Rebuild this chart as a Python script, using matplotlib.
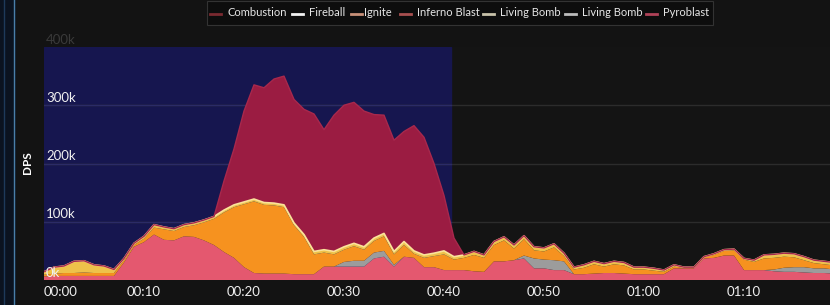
import matplotlib
matplotlib.use("Agg")
import matplotlib.pyplot as plt
from matplotlib.lines import Line2D
from matplotlib.patches import Rectangle
import numpy as np

plt.rcParams["font.family"] = ["Lato", "DejaVu Sans"]

# seconds into the fight
seconds = list(range(80))

# DPS per spell in thousands (stack order bottom -> top)
pyroblast = [6, 7, 7, 7, 7, 7, 7, 7, 30, 57, 65, 78, 69, 68, 75, 74, 68, 60, 48, 38,
             22, 12, 11, 11, 11, 10, 10, 10, 23, 23, 23, 23, 23, 37, 40, 23, 40, 38, 22, 22,
             17, 17, 17, 15, 14, 32, 32, 34, 37, 20, 20, 17, 17, 10, 10, 11, 12, 12, 11, 10,
             10, 10, 10, 20, 20, 20, 37, 38, 42, 42, 17, 17, 17, 15, 14, 14, 13, 12, 12, 11]
living_bomb = [0, 0, 0, 0, 0, 0, 0, 0, 0, 0, 0, 0, 0, 0, 0, 0, 0, 0, 0, 0,
               0, 0, 0, 0, 0, 0, 0, 0, 0, 0, 8, 10, 10, 10, 10, 3, 0, 0, 0, 0,
               0, 0, 0, 0, 0, 0, 0, 0, 5, 17, 15, 17, 15, 0, 0, 0, 0, 0, 0, 0,
               0, 0, 0, 0, 0, 0, 0, 0, 0, 0, 0, 0, 0, 3, 7, 8, 9, 8, 8, 7]
ignite = [3, 4, 5, 5, 6, 5, 5, 5, 4, 3, 6, 12, 18, 16, 16, 20, 31, 45, 68, 87,
          108, 123, 118, 117, 114, 84, 64, 34, 24, 21, 21, 25, 19, 20, 25, 18, 20, 7, 16, 19,
          27, 18, 21, 28, 24, 28, 36, 20, 28, 14, 14, 22, 9, 8, 11, 16, 11, 15, 14, 8,
          8, 6, 4, 3, 1, 1, 2, 5, 8, 9, 18, 14, 20, 20, 19, 17, 12, 9, 7, 7]
fireball = [5, 11, 12, 20, 20, 14, 12, 6, 3, 3, 4, 5, 4, 4, 4, 4, 4, 4, 4, 4,
            4, 4, 4, 4, 4, 4, 4, 5, 5, 5, 5, 5, 5, 5, 5, 5, 6, 5, 5, 5,
            6, 5, 5, 6, 5, 6, 6, 6, 6, 6, 6, 6, 5, 4, 5, 5, 5, 5, 5, 4,
            4, 4, 3, 3, 1, 1, 1, 2, 2, 2, 2, 3, 6, 6, 6, 6, 6, 5, 5, 5]
combustion = [0, 0, 0, 0, 0, 0, 0, 0, 0, 0, 0, 0, 0, 0, 0, 0, 0, 0, 50, 96,
              156, 196, 197, 213, 221, 212, 215, 236, 206, 234, 243, 242, 233, 212, 203, 191, 189, 215, 202, 154,
              95, 32, 0, 0, 0, 0, 0, 0, 0, 0, 0, 0, 0, 0, 0, 0, 0, 0, 0, 0,
              0, 0, 0, 0, 0, 0, 0, 0, 0, 0, 0, 0, 0, 0, 0, 0, 0, 0, 0, 0]

legend_names = ["Combustion", "Fireball", "Ignite", "Inferno Blast",
                "Living Bomb", "Living Bomb", "Pyroblast"]
legend_colors = ["#7a2a30", "#f2f2f2", "#c89078", "#a85050",
                 "#c8c2aa", "#bcbcbc", "#b04258"]
yticks = [0, 100, 200, 300, 400]
xtick_labels = ["00:00", "00:10", "00:20", "00:30", "00:40", "00:50", "01:00", "01:10"]

t = np.array(seconds)
layers = [np.array(v) * 1000 for v in (pyroblast, living_bomb, ignite, fireball, combustion)]
colors = ["#e4586f", "#9c9c9c", "#f6921f", "#eec24a", "#9b1c42"]

fig = plt.figure(figsize=(8.3, 3.05), dpi=100, facecolor="#131313")
ax = fig.add_axes([44 / 830, 25 / 305, 1 - 44 / 830, 233 / 305])
ax.set_facecolor("#141414")

# combat band
ax.axvspan(0, 40.7, color="#16164f", zorder=0)

for y in yticks[1:4]:
    ax.axhline(y * 1000, color="#2c2c2c", lw=1, zorder=0.5)
    ax.plot([0, 40.7], [y * 1000, y * 1000], color="#2b2b66", lw=1, zorder=1)

ax.stackplot(t, *layers, colors=colors, zorder=2, lw=0)
cum = np.cumsum(layers, axis=0)
ax.plot(t, cum[3], color="#fbe39a", lw=1.2, zorder=3)
ax.plot(t, cum[4], color="#a8284c", lw=1, zorder=3)

ax.set_xlim(0, 78.6)
ax.set_ylim(0, 400000)
ax.set_yticks([])
ax.set_xticks(range(0, 80, 10))
ax.set_xticklabels(xtick_labels, color="#f0f0f0", fontsize=9.5)
ax.get_xticklabels()[0].set_ha("left")
ax.tick_params(axis="x", length=0, pad=4)
for s in ax.spines.values():
    s.set_visible(False)

for y in yticks:
    c = "#3a3a3a" if y == 400 else "#f0f0f0"
    ax.text(0.2, y * 1000 + 2500, f"{y}k", color=c, fontsize=9.5,
            ha="left", va="bottom", zorder=5, clip_on=False)

fig.text(28 / 830, 1 - 163 / 305, "DPS", rotation=90, color="white",
         fontsize=8.5, fontweight="bold", ha="center", va="center")

# left frame strip
fig.patches.append(Rectangle((0, 0), 15 / 830, 1, transform=fig.transFigure,
                             color="#0b1320", zorder=0))
fig.add_artist(Line2D([4 / 830, 4 / 830], [0, 1], color="#1e3a5a", lw=1))
fig.add_artist(Line2D([14 / 830, 14 / 830], [0, 1], color="#4a7fa8", lw=1))

# legend box
fig.add_artist(Rectangle((207 / 830, 1 - 25 / 305), 506 / 830, 24 / 305,
                         transform=fig.transFigure, facecolor="#0d0d0d",
                         edgecolor="#333333", lw=0.8, zorder=4))
line_x = [210, 292, 351, 400, 483, 565, 646]
text_x = [227, 309, 364, 417, 500, 582, 663]
ly = 1 - 14 / 305
for x0, tx, name, col in zip(line_x, text_x, legend_names, legend_colors):
    fig.add_artist(Line2D([x0 / 830, (x0 + 11) / 830], [ly, ly], color=col, lw=2, zorder=5))
    fig.text(tx / 830, 1 - 13 / 305, name, color="#e6e6e6", fontsize=8,
             ha="left", va="center", zorder=6)

fig.savefig("out.png", dpi=100, facecolor=fig.get_facecolor())
